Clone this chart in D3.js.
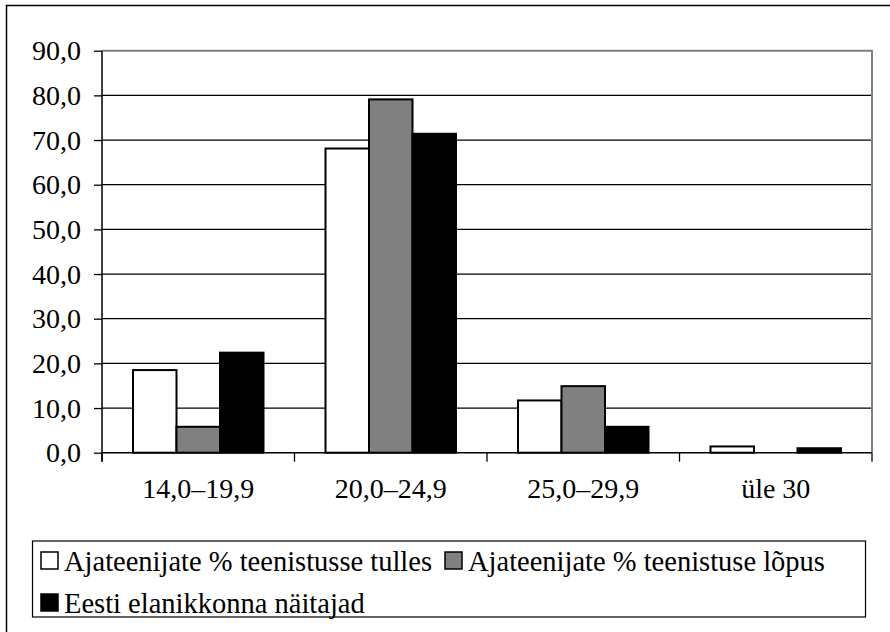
<!DOCTYPE html>
<html>
<head>
<meta charset="utf-8">
<script src="https://cdn.jsdelivr.net/npm/d3@7/dist/d3.min.js"></script>
<style>
  html, body { margin: 0; padding: 0; background: #fff; font-family: serif; }
</style>
</head>
<body>
<svg id="chart" width="890" height="632" font-family="'Liberation Serif', serif"></svg>
<script>
// Body mass index groups
const categories = ["14,0–19,9", "20,0–24,9", "25,0–29,9", "üle 30"];
const seriesNames = [
  "Ajateenijate % teenistusse tulles",
  "Ajateenijate % teenistuse lõpus",
  "Eesti elanikkonna näitajad"
];
const arrivalValues = [18.5, 68.1, 11.7, 1.4];
const endValues = [5.8, 79.1, 14.9, 0.0];
const populationValues = [22.4, 71.4, 5.8, 1.0];
const yTicks = [0, 10, 20, 30, 40, 50, 60, 70, 80, 90];
const seriesFills = ["#ffffff", "#808080", "#000000"];

const series = [arrivalValues, endValues, populationValues];

const svg = d3.select("#chart");
const plot = { left: 102, right: 872, top: 50.7, bottom: 452.7 };
const fmt = v => d3.format(".1f")(v).replace(".", ",");

// outer frame
svg.append("rect")
  .attr("x", 6.5).attr("y", 5.5).attr("width", 900).attr("height", 700)
  .attr("fill", "none").attr("stroke", "#000").attr("stroke-width", 1.5);

const x0 = d3.scaleBand().domain(categories).range([plot.left, plot.right]).padding(0);
const x1 = d3.scaleBand().domain(d3.range(series.length))
  .range([31, x0.bandwidth() - 31]).padding(0);
const y = d3.scaleLinear().domain([0, 90]).range([plot.bottom, plot.top]);

// horizontal gridlines
svg.append("g").selectAll("line")
  .data(yTicks.filter(t => t > 0 && t < 90))
  .join("line")
  .attr("x1", plot.left).attr("x2", plot.right)
  .attr("y1", d => y(d)).attr("y2", d => y(d))
  .attr("stroke", "#000").attr("stroke-width", 1.2);

// plot area border (top and right)
svg.append("path")
  .attr("d", `M${plot.left},${plot.top}H${plot.right}V${plot.bottom}`)
  .attr("fill", "none").attr("stroke", "#808080").attr("stroke-width", 2);

// bars
const groups = svg.append("g").selectAll("g")
  .data(categories)
  .join("g")
  .attr("transform", d => `translate(${x0(d)},0)`);

groups.selectAll("rect")
  .data((c, ci) => series.map((s, si) => ({ si, v: s[ci] })).filter(d => d.v > 0))
  .join("rect")
  .attr("x", d => x1(d.si))
  .attr("width", x1.bandwidth())
  .attr("y", d => y(d.v))
  .attr("height", d => y(0) - y(d.v))
  .attr("fill", d => seriesFills[d.si])
  .attr("stroke", "#000")
  .attr("stroke-width", 2);

// y axis
const yAxis = d3.axisLeft(y).tickValues(yTicks).tickFormat(fmt).tickSize(8).tickPadding(13);
const ga = svg.append("g").attr("transform", `translate(${plot.left},0)`).call(yAxis);
ga.attr("font-family", null).attr("font-size", 28);
ga.select(".domain").attr("stroke", "#000").attr("stroke-width", 1.5)
  .attr("d", `M0,${plot.top}V${plot.bottom + 9}`);
ga.selectAll(".tick line").attr("stroke", "#000").attr("stroke-width", 1.3);
ga.selectAll(".tick text").attr("fill", "#000");

// x axis: baseline with ticks between categories
const xg = svg.append("g").attr("font-size", 28);
xg.append("line")
  .attr("x1", plot.left).attr("x2", plot.right)
  .attr("y1", plot.bottom).attr("y2", plot.bottom)
  .attr("stroke", "#000").attr("stroke-width", 1.5);
const boundaries = categories.map(c => x0(c)).concat([plot.right]);
xg.selectAll("line.tk").data(boundaries).join("line").attr("class", "tk")
  .attr("x1", d => d).attr("x2", d => d)
  .attr("y1", plot.bottom).attr("y2", plot.bottom + 9)
  .attr("stroke", "#000").attr("stroke-width", 1.3);
xg.selectAll("text").data(categories).join("text")
  .attr("x", d => x0(d) + x0.bandwidth() / 2)
  .attr("y", 498)
  .attr("text-anchor", "middle")
  .text(d => d);

// legend
const legend = svg.append("g").attr("font-size", 28.5);
legend.append("rect")
  .attr("x", 32.5).attr("y", 541).attr("width", 833).attr("height", 76)
  .attr("fill", "#fff").attr("stroke", "#000").attr("stroke-width", 1.2);
const legendPos = [[40, 561], [444, 561], [40, 603]];
const items = legend.selectAll("g").data(seriesNames).join("g")
  .attr("transform", (d, i) => `translate(${legendPos[i][0]},${legendPos[i][1]})`);
items.append("rect")
  .attr("x", 1).attr("y", -9).attr("width", 17).attr("height", 17)
  .attr("fill", (d, i) => seriesFills[i])
  .attr("stroke", "#000").attr("stroke-width", 1.5);
items.append("text")
  .attr("x", 24).attr("y", 10)
  .text(d => d);
</script>
</body>
</html>
